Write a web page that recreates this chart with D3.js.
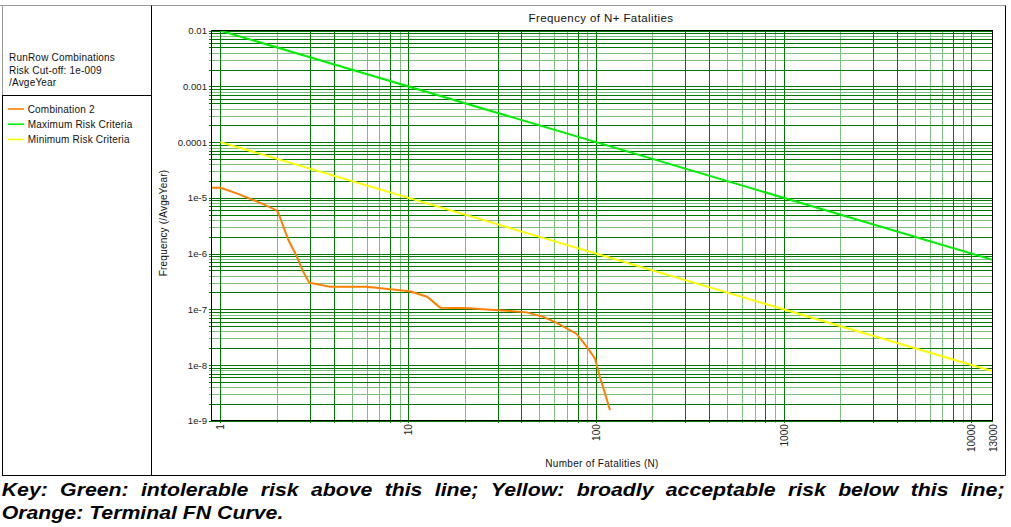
<!DOCTYPE html>
<html>
<head>
<meta charset="utf-8">
<script src="https://cdn.jsdelivr.net/npm/d3@7/dist/d3.min.js"></script>
<style>
  body { margin: 0; background: #fff; }
  svg text { font-family: "Liberation Sans", Arial, sans-serif; }
</style>
</head>
<body>
<div id="container"></div>
<script>
// ---- data ----
let xTickValues = [1, 10, 100, 1000, 10000, 13000];
let xTickLabels = ["1", "10", "100", "1000", "10000", "13000"];
let yTickValues = [1e-9, 1e-8, 1e-7, 1e-6, 1e-5, 1e-4, 1e-3, 1e-2];
let yTickLabels = ["1e-9", "1e-8", "1e-7", "1e-6", "1e-5", "0.0001", "0.001", "0.01"];

// maximum risk criteria (green) and minimum risk criteria (yellow)
let maxRiskN = [1, 13000];
let maxRiskF = [0.01, 7.7e-7];
let minRiskN = [1, 13000];
let minRiskF = [0.0001, 7.7e-9];

// combination 2 (orange), terminal FN curve
let comboN = [0.89, 1, 1.22, 1.62, 1.98, 2.03, 2.3, 2.55, 2.76, 2.97, 3.83, 6.0, 9.04, 10.2, 12.6, 14.8, 21.3, 25.1, 34.9, 42.8, 52.4, 61.8, 79.0, 89.4, 98.9, 105, 111.8, 118.9];
let comboF = [1.52e-5, 1.52e-5, 1.2e-5, 8.2e-6, 6.0e-6, 5.4e-6, 1.75e-6, 8.8e-7, 4.7e-7, 3.0e-7, 2.54e-7, 2.54e-7, 2.2e-7, 2.1e-7, 1.68e-7, 1.07e-7, 1.04e-7, 9.96e-8, 9.3e-8, 8.8e-8, 7.3e-8, 5.7e-8, 3.6e-8, 2.12e-8, 1.31e-8, 6.1e-9, 3.09e-9, 1.55e-9];

let legendHeader = ["RunRow Combinations", "Risk Cut-off: 1e-009", "/AvgeYear"];
let seriesNames = ["Combination 2", "Maximum Risk Criteria", "Minimum Risk Criteria"];
let seriesColors = ["#ff8000", "#00ee00", "#ffff00"];

let captionLine1 = "Key: Green: intolerable risk above this line; Yellow: broadly acceptable risk below this line;";
let captionLine2 = "Orange: Terminal FN Curve.";

// ---- layout ----
let w = 1011;
let h = 527;
let plotLeft = 211, plotRight = 992.7, plotTop = 30.7, plotBottom = 420.7;
let darkGrid = "#007800";
let lightGrid = "#7fbf7f";

let viz = d3.select("#container")
  .append("svg")
    .attr("width", w)
    .attr("height", h)
;

let xScale = d3.scaleLog().domain([0.89, 13000]).range([plotLeft, plotRight]);
let yScale = d3.scaleLog().domain([1e-9, 1e-2]).range([plotBottom, plotTop]);

// gridline values, split in two shades like the picture
function gridValues(lo, hi, darkSet) {
  let dark = [], light = [];
  for (let e = Math.floor(Math.log10(lo)); e <= Math.ceil(Math.log10(hi)); e++) {
    for (let k = 1; k <= 9; k++) {
      let v = k * Math.pow(10, e);
      if (v < lo * 0.999 || v > hi * 1.001) continue;
      if (darkSet.indexOf(k) >= 0) dark.push(v); else light.push(v);
    }
  }
  return { dark: dark, light: light };
}
let xGrid = gridValues(1, 13000, [1, 3, 4, 8]);
let yGrid = gridValues(1e-9, 1e-2, [1, 2, 5, 6, 7, 9]);

let gridGroup = viz.append("g").attr("class", "grid");

function drawGrid(values, color, vertical) {
  let g = gridGroup.append("g");
  if (vertical) {
    g.attr("transform", "translate(0," + (plotBottom + 2.6) + ")")
      .call(d3.axisBottom(xScale).tickValues(values).tickFormat("")
        .tickSizeInner(-(plotBottom + 2.6 - plotTop)).tickSizeOuter(0));
  } else {
    g.attr("transform", "translate(" + (plotLeft - 2.5) + ",0)")
      .call(d3.axisLeft(yScale).tickValues(values).tickFormat("")
        .tickSizeInner(-(plotRight - plotLeft + 2.5)).tickSizeOuter(0));
  }
  g.select(".domain").remove();
  g.selectAll(".tick line")
    .attr("stroke", color)
    .attr("stroke-width", 1)
    .attr("shape-rendering", "crispEdges");
}
drawGrid(xGrid.light, lightGrid, true);
drawGrid(yGrid.light, lightGrid, false);
drawGrid(xGrid.dark, darkGrid, true);
drawGrid(yGrid.dark, darkGrid, false);

// tick labels
let yAxisGroup = viz.append("g")
  .attr("transform", "translate(" + (plotLeft - 4) + ",0)")
  .call(d3.axisLeft(yScale).tickValues(yTickValues)
    .tickFormat(function(d, i){ return yTickLabels[i]; })
    .tickSize(0).tickPadding(0));
yAxisGroup.select(".domain").remove();
yAxisGroup.selectAll("text")
  .attr("font-size", "9.6px")
  .attr("fill", "#222")
  .attr("font-family", "Liberation Sans, Arial, sans-serif");

let xAxisGroup = viz.append("g")
  .attr("transform", "translate(0," + (plotBottom + 3.5) + ")")
  .call(d3.axisBottom(xScale).tickValues(xTickValues)
    .tickFormat(function(d, i){ return xTickLabels[i]; })
    .tickSize(0).tickPadding(0));
xAxisGroup.select(".domain").remove();
xAxisGroup.selectAll("text")
  .attr("font-size", "10px")
  .attr("fill", "#222")
  .attr("font-family", "Liberation Sans, Arial, sans-serif")
  .attr("transform", "rotate(-90)")
  .attr("text-anchor", "end")
  .attr("x", 0)
  .attr("y", 0)
  .attr("dy", "0.35em");

// series lines
let lineMaker = d3.line()
  .x(function(d){ return xScale(d[0]); })
  .y(function(d){ return yScale(d[1]); })
;
let lineGroup = viz.append("g").attr("class", "lines");
let seriesData = [
  d3.zip(minRiskN, minRiskF),
  d3.zip(maxRiskN, maxRiskF),
  d3.zip(comboN, comboF)
];
let drawColors = [seriesColors[2], seriesColors[1], seriesColors[0]];
lineGroup.selectAll(".line").data(seriesData).enter()
  .append("path")
    .attr("class", "line")
    .attr("d", lineMaker)
    .attr("fill", "none")
    .attr("stroke", function(d, i){ return drawColors[i]; })
    .attr("stroke-width", 2)
;

// plot border
viz.append("rect")
  .attr("x", plotLeft).attr("y", plotTop)
  .attr("width", plotRight - plotLeft).attr("height", plotBottom - plotTop)
  .attr("fill", "none").attr("stroke", "#000").attr("stroke-width", 1)
  .attr("shape-rendering", "crispEdges");

// titles
viz.append("text")
  .attr("x", 601).attr("y", 22)
  .attr("text-anchor", "middle")
  .attr("font-size", "11.5px")
  .attr("letter-spacing", "0.4px")
  .attr("fill", "#111")
  .text("Frequency of N+ Fatalities");

viz.append("text")
  .attr("x", 602).attr("y", 467)
  .attr("text-anchor", "middle")
  .attr("font-size", "10px")
  .attr("letter-spacing", "0.3px")
  .attr("fill", "#111")
  .text("Number of Fatalities (N)");

viz.append("text")
  .attr("transform", "translate(166.5,223) rotate(-90)")
  .attr("text-anchor", "middle")
  .attr("font-size", "10px")
  .attr("letter-spacing", "0.2px")
  .attr("fill", "#111")
  .text("Frequency (/AvgeYear)");

// frame
viz.append("line").attr("x1", 0).attr("x2", 1005.5).attr("y1", 5.5).attr("y2", 5.5)
  .attr("stroke", "#999");
viz.append("line").attr("x1", 2.5).attr("x2", 2.5).attr("y1", 5.5).attr("y2", 95.5)
  .attr("stroke", "#999");
viz.append("line").attr("x1", 2.5).attr("x2", 2.5).attr("y1", 95.5).attr("y2", 475.5)
  .attr("stroke", "#000");
viz.append("line").attr("x1", 2).attr("x2", 152).attr("y1", 95.5).attr("y2", 95.5)
  .attr("stroke", "#000");
viz.append("line").attr("x1", 151.5).attr("x2", 151.5).attr("y1", 5.5).attr("y2", 475.5)
  .attr("stroke", "#000");
viz.append("line").attr("x1", 2).attr("x2", 1005.5).attr("y1", 475.5).attr("y2", 475.5)
  .attr("stroke", "#000");
viz.append("line").attr("x1", 1005.5).attr("x2", 1005.5).attr("y1", 5.5).attr("y2", 475.5)
  .attr("stroke", "#000");

// legend panel
let legendGroup = viz.append("g").attr("class", "legend");
legendGroup.selectAll(".head").data(legendHeader).enter()
  .append("text")
    .attr("class", "head")
    .attr("x", 9)
    .attr("y", function(d, i){ return 61.3 + i * 12.5; })
    .attr("font-size", "10px")
    .attr("letter-spacing", "0.2px")
    .attr("fill", "#111")
    .text(function(d){ return d; });

let entries = legendGroup.selectAll(".entry").data(seriesNames).enter()
  .append("g")
    .attr("class", "entry")
    .attr("transform", function(d, i){ return "translate(0," + (109 + i * 15.2) + ")"; });
entries.append("line")
  .attr("x1", 8).attr("x2", 24).attr("y1", 0).attr("y2", 0)
  .attr("stroke", function(d, i){ return seriesColors[i]; })
  .attr("stroke-width", 1.6);
entries.append("text")
  .attr("x", 27.7).attr("y", 3.6)
  .attr("font-size", "10px")
  .attr("letter-spacing", "0.2px")
  .attr("fill", "#111")
  .text(function(d){ return d; });

// caption, justified by word
let hs = 1.12;
let capGroup = viz.append("g").attr("class", "caption");
function captionWord(word, x, y) {
  return capGroup.append("text")
    .attr("transform", "translate(" + x + "," + y + ") scale(" + hs + ",1)")
    .attr("font-size", "19px")
    .attr("font-weight", "bold")
    .attr("font-style", "italic")
    .attr("fill", "#000")
    .text(word);
}
let words1 = captionLine1.split(" ");
let nodes1 = words1.map(function(wd){ return captionWord(wd, 0, 495.7); });
let widths1 = nodes1.map(function(n){ return n.node().getComputedTextLength() * hs; });
let gap = (1004.5 - 1.7 - d3.sum(widths1)) / (words1.length - 1);
let cx = 1.7;
nodes1.forEach(function(n, i){
  n.attr("transform", "translate(" + cx + ",495.7) scale(" + hs + ",1)");
  cx += widths1[i] + gap;
});
captionWord(captionLine2, 1.7, 519);
</script>
</body>
</html>
